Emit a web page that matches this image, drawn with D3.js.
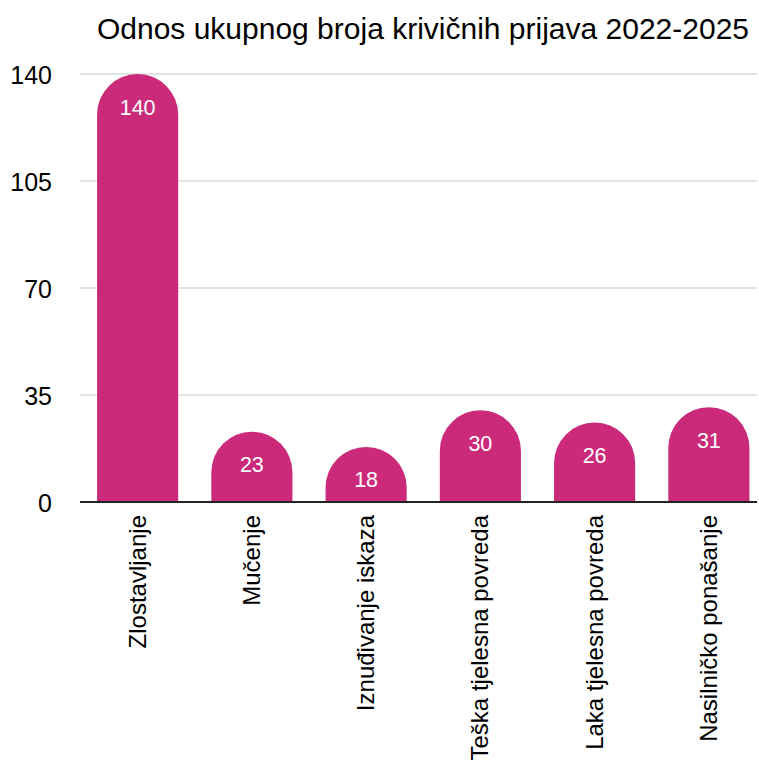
<!DOCTYPE html>
<html><head><meta charset="utf-8">
<script src="https://cdn.jsdelivr.net/npm/d3@7/dist/d3.min.js"></script>
<style>body{margin:0;background:#fff;font-family:"Liberation Sans",Arial,Helvetica,sans-serif;}</style>
</head><body><svg id="c" width="759" height="763"></svg>
<script>
const title = "Odnos ukupnog broja krivičnih prijava 2022-2025";
const categories = ["Zlostavljanje","Mučenje","Iznuđivanje iskaza","Teška tjelesna povreda","Laka tjelesna povreda","Nasilničko ponašanje"];
const values = [140,23,18,30,26,31];
const yTicks = [0,35,70,105,140];

(function(){
const svg = d3.select("#c");
const pLeft = 80, pRight = 757, pTop = 74, pBottom = 502;
const x = d3.scaleBand().domain(categories).range([80.5, 766]).paddingInner(0.29).paddingOuter(0.145);
const y = d3.scaleLinear().domain([0,140]).range([pBottom, pTop]);
const color = "#cb2a7b";

svg.append("text").attr("x", 423).attr("y", 39).attr("text-anchor","middle")
  .attr("font-size", 30).attr("fill","#000").text(title);

const g = svg.append("g");
g.selectAll("line.grid").data(yTicks.filter(d=>d>0)).join("line")
  .attr("x1", pLeft).attr("x2", pRight).attr("y1", d=>y(d)).attr("y2", d=>y(d))
  .attr("stroke","#c8c8c8").attr("stroke-width",1.2);
g.selectAll("text.yt").data(yTicks).join("text")
  .attr("x", 52).attr("y", d=>y(d)+1).attr("dy","0.35em").attr("text-anchor","end")
  .attr("font-size", 25).attr("fill","#000").text(d=>d);

function barPath(x0, w, yT, yB){
  const h = yB - yT;
  const r = Math.min(w/2, h);
  return `M${x0},${yB} L${x0},${yT+r} A${r},${r} 0 0 1 ${x0+r},${yT} L${x0+w-r},${yT} A${r},${r} 0 0 1 ${x0+w},${yT+r} L${x0+w},${yB} Z`;
}
const data = categories.map((c,i)=>({c, v: values[i]}));
svg.selectAll("path.bar").data(data).join("path")
  .attr("d", d=>barPath(x(d.c), x.bandwidth(), y(d.v), y(0)))
  .attr("fill", color);
svg.selectAll("text.val").data(data).join("text")
  .attr("x", d=>x(d.c)+x.bandwidth()/2).attr("y", d=>y(d.v)+33).attr("dy","0.35em")
  .attr("text-anchor","middle").attr("font-size",21.5).attr("fill","#fff").text(d=>d.v);

svg.append("line").attr("x1",pLeft).attr("x2",pRight).attr("y1",y(0)).attr("y2",y(0))
  .attr("stroke","#222").attr("stroke-width",2);

svg.selectAll("text.cat").data(categories).join("text")
  .attr("transform", d=>`translate(${x(d)+x.bandwidth()/2+8},515) rotate(-90)`)
  .attr("text-anchor","end").attr("font-size",24).attr("fill","#000").text(d=>d);
})();
</script></body></html>
